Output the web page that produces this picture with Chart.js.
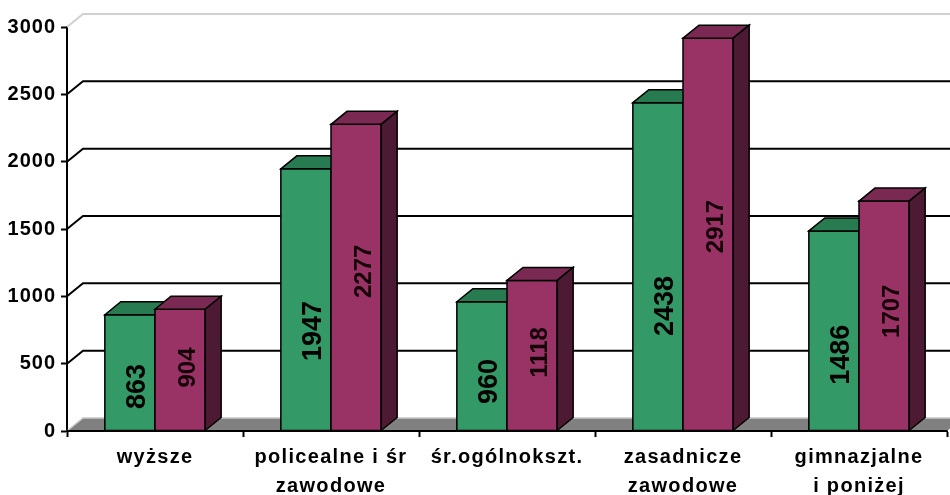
<!DOCTYPE html>
<html>
<head>
<meta charset="utf-8">
<script src="https://cdn.jsdelivr.net/npm/chart.js@4/dist/chart.umd.min.js"></script>
<style>
  html, body { margin: 0; padding: 0; background: #ffffff; }
  canvas { display: block; }
</style>
</head>
<body>
<canvas id="c" width="950" height="495"></canvas>
<script>
const categories = [
  ['wyższe'],
  ['policealne i śr', 'zawodowe'],
  ['śr.ogólnokszt.'],
  ['zasadnicze', 'zawodowe'],
  ['gimnazjalne', 'i poniżej']
];
const seriesGreen = [863, 1947, 960, 2438, 1486];
const seriesPlum = [904, 2277, 1118, 2917, 1707];
const yMin = 0;
const yMax = 3000;
const yStep = 500;

const FONT = '"Liberation Sans", Arial, sans-serif';
const DEPTH_X = 16, DEPTH_Y = 13;

const palettes = [
  { front: '#339966', top: '#287a50', side: '#1f5c3d', labelFont: 'bold 27px ' + FONT, labelColor: '#000000', labelFrac: 0.38 },
  { front: '#993366', top: '#7a2952', side: '#4d1a33', labelFont: 'bold 24px ' + FONT, labelColor: '#150008', labelFrac: 0.52 }
];

const letterSpacingPlugin = {
  id: 'letterSpacing',
  beforeDraw(chart) {
    const spacing = { x: '1.3px', y: '1px' };
    Object.keys(spacing).forEach(id => {
      const s = chart.scales[id];
      if (!s || s._lsWrapped) return;
      const orig = s.drawLabels;
      s.drawLabels = function (area) {
        const c = this.ctx;
        const prev = c.letterSpacing;
        c.letterSpacing = spacing[id];
        orig.call(this, area);
        c.letterSpacing = prev;
      };
      s._lsWrapped = true;
    });
  }
};

const bars3d = {
  id: 'bars3d',
  beforeDatasetsDraw(chart) {
    const { ctx, chartArea: ca, scales } = chart;
    const ys = scales.y;
    ctx.save();
    ys.ticks.forEach(t => {
      const v = t.value;
      const py = ys.getPixelForValue(v);
      if (v === yMin) {
        ctx.fillStyle = '#808080';
        ctx.beginPath();
        ctx.moveTo(ca.left, py);
        ctx.lineTo(ca.right, py);
        ctx.lineTo(ca.right + DEPTH_X, py - DEPTH_Y);
        ctx.lineTo(ca.left + DEPTH_X, py - DEPTH_Y);
        ctx.closePath();
        ctx.fill();
        ctx.strokeStyle = '#c8c8c8';
        ctx.lineWidth = 1.5;
        ctx.beginPath();
        ctx.moveTo(ca.left, py);
        ctx.lineTo(ca.left + DEPTH_X, py - DEPTH_Y);
        ctx.lineTo(ca.right + DEPTH_X, py - DEPTH_Y);
        ctx.stroke();
        return;
      }
      ctx.strokeStyle = v === yMax ? '#d0d0d0' : '#000000';
      ctx.lineWidth = 2;
      ctx.beginPath();
      ctx.moveTo(ca.left, py);
      ctx.lineTo(ca.left + DEPTH_X, py - DEPTH_Y);
      ctx.lineTo(ca.right + DEPTH_X, py - DEPTH_Y);
      ctx.stroke();
    });
    const p0 = ys.getPixelForValue(yMin);
    ctx.strokeStyle = '#000';
    ctx.lineWidth = 2;
    ctx.beginPath();
    ctx.moveTo(ca.left, p0);
    ctx.lineTo(ca.right, p0);
    ctx.stroke();

    const metas = chart.data.datasets.map((d, i) => chart.getDatasetMeta(i));
    const n = categories.length;
    ctx.lineJoin = 'miter';
    for (let i = 0; i < n; i++) {
      metas.forEach((meta, j) => {
        const el = meta.data[i];
        const p = palettes[j];
        const l = el.x - el.width / 2, r = el.x + el.width / 2;
        const top = el.y, base = el.base;
        ctx.lineWidth = 1.5;
        ctx.strokeStyle = '#000';
        ctx.fillStyle = p.front;
        ctx.beginPath();
        ctx.rect(l, top, r - l, base - top);
        ctx.fill();
        ctx.stroke();
        ctx.fillStyle = p.top;
        ctx.beginPath();
        ctx.moveTo(l, top);
        ctx.lineTo(l + DEPTH_X, top - DEPTH_Y);
        ctx.lineTo(r + DEPTH_X, top - DEPTH_Y);
        ctx.lineTo(r, top);
        ctx.closePath();
        ctx.fill();
        ctx.stroke();
        ctx.fillStyle = p.side;
        ctx.beginPath();
        ctx.moveTo(r, top);
        ctx.lineTo(r + DEPTH_X, top - DEPTH_Y);
        ctx.lineTo(r + DEPTH_X, base - DEPTH_Y);
        ctx.lineTo(r, base);
        ctx.closePath();
        ctx.fill();
        ctx.stroke();
      });
    }
    metas.forEach((meta, j) => {
      const p = palettes[j];
      const values = chart.data.datasets[j].data;
      meta.data.forEach((el, i) => {
        const cx = el.x + DEPTH_X / 2;
        const cy = el.base - (el.base - el.y) * p.labelFrac;
        ctx.save();
        ctx.translate(cx, cy);
        ctx.rotate(-Math.PI / 2);
        ctx.font = p.labelFont;
        ctx.fillStyle = p.labelColor;
        ctx.textAlign = 'center';
        ctx.textBaseline = 'middle';
        ctx.fillText(String(values[i]), 0, 0);
        ctx.restore();
      });
    });
    ctx.restore();
    return false;
  }
};

new Chart(document.getElementById('c'), {
  type: 'bar',
  data: {
    labels: categories,
    datasets: [
      { label: 'A', data: seriesGreen, backgroundColor: palettes[0].front },
      { label: 'B', data: seriesPlum, backgroundColor: palettes[1].front }
    ]
  },
  options: {
    responsive: false,
    animation: false,
    events: [],
    layout: { padding: { top: 27, right: 3, left: 0, bottom: 0 } },
    plugins: { legend: { display: false }, tooltip: { enabled: false } },
    datasets: { bar: { categoryPercentage: 0.57, barPercentage: 1.0 } },
    scales: {
      x: {
        afterFit: s => { s.height = 64; },
        grid: { offset: true, drawOnChartArea: false, drawTicks: true, tickLength: 6, tickWidth: 2, tickColor: '#000' },
        border: { display: true, color: '#000', width: 2 },
        ticks: {
          color: '#000',
          padding: 6,
          maxRotation: 0,
          autoSkip: false,
          font: { family: FONT, size: 20, weight: 'bold', lineHeight: 1.45 }
        }
      },
      y: {
        min: yMin,
        max: yMax,
        afterFit: s => { s.width = 67; },
        grid: { drawOnChartArea: false, drawTicks: true, tickLength: 6, tickWidth: 2, tickColor: '#000' },
        border: { display: true, color: '#000', width: 2 },
        ticks: {
          stepSize: yStep,
          color: '#000',
          padding: 5,
          callback: v => String(v),
          font: { family: FONT, size: 20, weight: 'bold' }
        }
      }
    }
  },
  plugins: [letterSpacingPlugin, bars3d]
});
</script>
</body>
</html>
